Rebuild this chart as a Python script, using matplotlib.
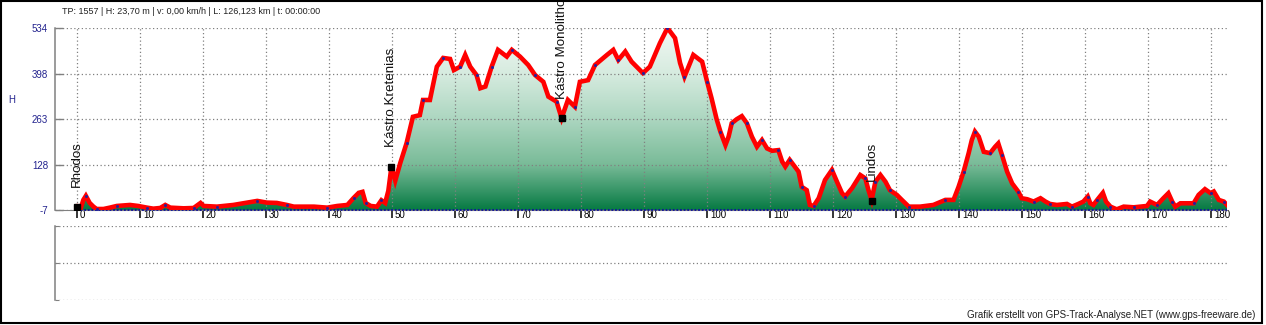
import numpy as np
import matplotlib.pyplot as plt
from matplotlib.colors import LinearSegmentedColormap
from matplotlib.patches import Rectangle
from matplotlib.transforms import ScaledTranslation

plt.rcParams['font.family'] = ['Liberation Sans', 'DejaVu Sans']

# Hoehenprofil (km, m)
km = [0.0, 0.5, 1.0, 1.4, 2.0, 2.6, 3.1, 4.2, 5.2, 6.3, 8.4, 9.7, 11.1, 12.1, 13.2,
      14.0, 14.8, 16.9, 18.5, 19.6, 20.1, 22.2, 24.8, 27.0, 28.6, 30.1, 31.7, 33.3,
      34.4, 37.6, 39.7, 41.3, 42.9, 43.9, 44.7, 45.3, 45.8, 46.6, 47.6, 48.3, 48.9,
      49.4, 49.9, 50.5, 51.3, 52.3, 53.3, 54.4, 54.9, 56.0, 57.1, 58.1, 59.2, 59.8,
      60.8, 61.6, 62.4, 63.4, 64.0, 64.8, 65.8, 66.8, 68.2, 69.0, 70.3, 71.6, 72.7,
      74.0, 74.8, 76.1, 76.9, 77.9, 79.0, 79.8, 81.1, 82.2, 84.1, 85.1, 85.9, 87.0,
      88.0, 89.8, 90.9, 92.5, 93.7, 94.9, 95.7, 96.4, 97.8, 99.2, 100.0, 100.7,
      101.5, 102.1, 102.9, 103.4, 103.9, 104.7, 105.5, 106.3, 107.1, 107.9, 108.7,
      109.5, 110.3, 111.3, 111.9, 112.4, 113.1, 113.7, 114.5, 115.0, 115.8, 116.3,
      116.9, 117.7, 118.7, 119.8, 120.6, 121.4, 121.9, 123.0, 124.3, 125.1, 125.6,
      126.1, 126.7, 127.5, 128.3, 129.0, 130.1, 130.9, 132.0, 133.8, 135.9, 137.8,
      139.1, 139.9, 140.7, 141.5, 142.0, 142.5, 143.1, 143.9, 144.9, 145.7, 146.2,
      146.8, 147.6, 148.4, 149.4, 149.9, 150.8, 151.8, 152.9, 153.7, 154.4, 155.5,
      157.1, 157.9, 158.9, 159.7, 160.4, 160.8, 161.3, 161.9, 162.8, 163.3, 164.0,
      165.0, 166.1, 167.7, 169.8, 170.3, 171.4, 172.4, 173.2, 173.8, 174.3, 175.1,
      177.2, 178.0, 179.0, 179.9, 180.4, 181.2, 182.0, 182.5]
elev = [3, -7, 23, 35, 14, 3, -4, -4, 0, 5, 8, 5, 0, -3, -1,
        8, 0, -2, -1, 14, 5, 3, 8, 15, 20, 15, 14, 8,
        3, 3, 0, 5, 8, 29, 44, 47, 14, 5, 3, 22, 14,
        50, 122, 80, 133, 192, 270, 275, 320, 320, 419, 445, 442, 409,
        419, 454, 419, 394, 355, 360, 419, 469, 449, 469, 449, 424, 394,
        374, 330, 315, 266, 320, 300, 374, 379, 424, 454, 469, 439, 464,
        434, 400, 419, 489, 534, 504, 430, 389, 454, 434, 374, 325,
        263, 226, 186, 211, 251, 263, 272, 251, 211, 181, 201,
        176, 169, 171, 137, 122, 142, 127, 107, 62, 52, 8,
        5, 28, 82, 112, 77, 43, 33, 58, 97, 87, 52,
        23, 77, 97, 77, 52, 38, 23, 3, 3, 8, 23,
        23, 62, 107, 162, 201, 226, 211, 166, 162, 181, 191,
        156, 107, 72, 47, 28, 25, 18, 28, 18, 11, 8,
        11, 3, 11, 18, 33, 13, 8, 23, 44, 18, 3,
        -5, 3, 1, 5, 18, 8, 28, 43, 18, 3, 13,
        13, 38, 55, 43, 48, 23, 18, 8]

wp_names = ['Rhodos', 'Kástro Kretenias', 'Kástro Monolithos', 'Lindos']
wp_km = [0.0, 49.9, 76.9, 126.1]
wp_elev = [3, 122, 266, 20]

x_ticks = list(range(0, 181, 10))
y_ticks = [-7, 128, 263, 398, 534]

info = 'TP: 1557 | H: 23,70 m | v: 0,00 km/h | L: 126,123 km | t: 00:00:00'
credit = 'Grafik erstellt von GPS-Track-Analyse.NET (www.gps-freeware.de)'

navy = '#23238e'
grey = '#808080'
W, H = 1266, 325

fig = plt.figure(figsize=(W / 100, H / 100), dpi=100)
ax = fig.add_axes([55 / W, 1 - 210 / H, (1227 - 55) / W, (210 - 28) / H])
ax2 = fig.add_axes([55 / W, 1 - 300 / H, (1227 - 55) / W, (300 - 226) / H])

ax.set_xlim(-3.5, 182.5)
ax.set_ylim(y_ticks[0], y_ticks[-1])

# Verlauf unter der Kurve
cmap = LinearSegmentedColormap.from_list('gr', [(0, '#067a43'), (0.25, '#79bb98'),
                                               (0.5, '#acd6c0'), (0.75, '#d6ebdf'),
                                               (1, '#f2f8f4')])
grad = np.linspace(0, 1, 256).reshape(-1, 1)
im = ax.imshow(grad, cmap=cmap, origin='lower', aspect='auto',
               extent=[-3.5, 182.5, y_ticks[0], y_ticks[-1]], zorder=0)
fill = ax.fill_between(km, elev, y_ticks[0], facecolor='none', edgecolor='none')
im.set_clip_path(fill.get_paths()[0], transform=ax.transData)

ax.plot([km[0], km[-1]], [y_ticks[0], y_ticks[0]], color='#1010a0', ls=(0, (1, 1)),
        lw=1.3, zorder=3, clip_on=False)
ax.plot(km, elev, color='red', lw=3.3, zorder=3, solid_joinstyle='miter')
ax.plot(km, elev, ls='none', marker='s', ms=1.0, color='#2020a0', zorder=4, markevery=3)

ax.plot(wp_km, wp_elev, ls='none', marker='s', ms=4.5, color='black', zorder=5)
for name, k, e in zip(wp_names, wp_km, wp_elev):
    ax.annotate(name, (k, e), xytext=(0, 14), textcoords='offset points',
                rotation=90, ha='center', va='bottom', fontsize=9.6, color='#111111')

ax.set_xticks(x_ticks)
ax.set_xticklabels([str(t) for t in x_ticks])
ax.set_yticks(y_ticks)
ax.set_yticklabels([str(t) for t in y_ticks])
ax.tick_params(axis='x', direction='out', length=6, width=1.1, color='black',
               pad=-6, labelsize=7)
ax.tick_params(axis='y', direction='in', length=6, width=1, color=grey,
               pad=5, labelsize=7, labelcolor=navy)
for lbl in ax.get_xticklabels():
    lbl.set_horizontalalignment('left')
    lbl.set_transform(lbl.get_transform() + ScaledTranslation(2 / 72, 0, fig.dpi_scale_trans))

ax.grid(True, color=grey, ls=(0, (1, 2)), lw=0.9)
for s in ['top', 'right']:
    ax.spines[s].set_visible(False)
ax.spines['left'].set_color(grey)
ax.spines['bottom'].set_color(grey)
ax.spines['left'].set_linewidth(1.1)

# unteres leeres Diagramm
ax2.set_xlim(-3.5, 182.5)
ax2.set_ylim(0, 2)
ax2.set_xticks([])
ax2.set_yticks([0, 1, 2])
ax2.set_yticklabels([])
ax2.tick_params(axis='y', direction='in', length=3, color=grey)
ax2.grid(True, axis='y', color=grey, ls=(0, (1, 2)), lw=0.9)
for s in ['top', 'right', 'bottom']:
    ax2.spines[s].set_visible(False)
ax2.spines['left'].set_color(grey)
ax2.spines['left'].set_linewidth(1.1)

fig.text(62 / W, 1 - 12 / H, info, fontsize=6.5, ha='left', va='center', color='#202020')
fig.text(8 / W, 1 - 100 / H, 'H', fontsize=7, ha='left', va='center', color=navy)
fig.text(1255 / W, 1 - 315 / H, credit, fontsize=7, ha='right', va='center', color='#202020')

fig.patches.append(Rectangle((0.5 / W, 2 / H), 1261 / W, 322.5 / H, transform=fig.transFigure,
                             fill=False, edgecolor='black', lw=1.5))

fig.savefig('out.png', dpi=100)
